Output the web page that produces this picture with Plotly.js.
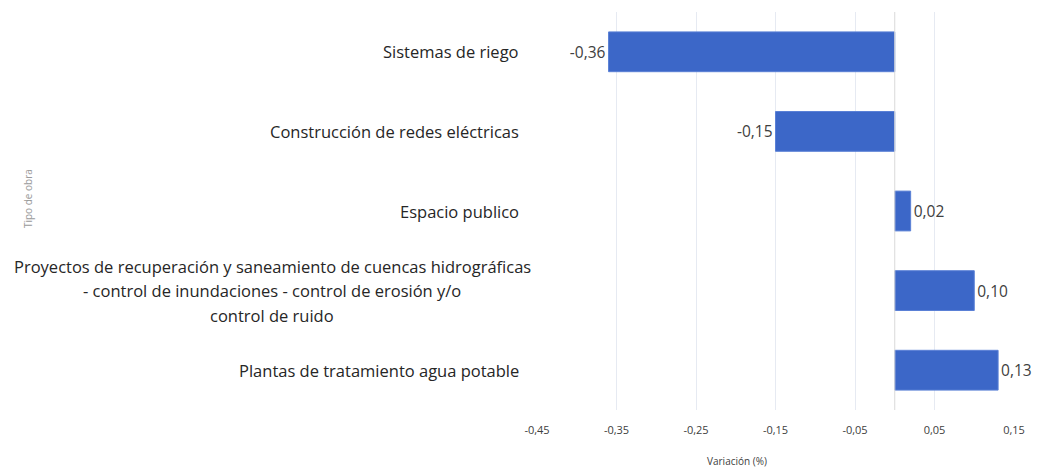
<!DOCTYPE html>
<html>
<head>
<meta charset="utf-8">
<script src="https://cdn.plot.ly/plotly-3.0.1.min.js"></script>
<style>html,body{margin:0;padding:0;background:#fff;}#chart{width:1037px;height:467px;}</style>
</head>
<body>
<div id="chart"></div>
<script>
const categories = [
  "Sistemas de riego",
  "Construcción de redes eléctricas",
  "Espacio publico",
  "Proyectos de recuperación y saneamiento de cuencas hidrográficas<br>- control de inundaciones - control de erosión y/o<br>control de ruido",
  "Plantas de tratamiento agua potable"
];
const values = [-0.36, -0.15, 0.02, 0.10, 0.13];
const xTickVals = [-0.45, -0.35, -0.25, -0.15, -0.05, 0.05, 0.15];
const xAxisTitle = "Variación (%)";
const yAxisTitle = "Tipo de obra";

const fmt = v => v.toFixed(2).replace(".", ",");

const FONT = "Open Sans, sans-serif";
const W = 1037, L = 537, R = 23;
const plotW = W - L - R;
const px = p => (p - L) / plotW;

const trace = {
  type: "bar",
  orientation: "h",
  y: categories,
  x: values,
  width: 0.5,
  marker: {color: "#3c67c8", line: {color: "#5a80d6", width: 1}},
  text: values.map(fmt),
  textposition: "outside",
  cliponaxis: false,
  textfont: {family: FONT, size: 15.5, color: "#404040"},
  hoverinfo: "skip"
};

const annotations = [];
categories.forEach(c => {
  const lines = c.split("<br>");
  if (lines.length === 1) {
    annotations.push({xref: "paper", yref: "y", x: px(521), y: c, xanchor: "right", yanchor: "middle",
      text: c, showarrow: false, font: {family: FONT, size: 16.5, color: "#262626"}});
  } else {
    const n = lines.length;
    lines.forEach((ln, i) => {
      annotations.push({xref: "paper", yref: "y", x: px(272), y: c, xanchor: "center", yanchor: "middle",
        yshift: ((n - 1) / 2 - i) * 24.5,
        text: ln, showarrow: false, font: {family: FONT, size: 16.5, color: "#262626"}});
    });
  }
});
annotations.push({xref: "paper", yref: "paper", x: px(28), y: 0.53, textangle: -90, xanchor: "center", yanchor: "middle",
  text: yAxisTitle, showarrow: false, font: {family: FONT, size: 10, color: "#9a9a9a"}});
annotations.push({xref: "paper", yref: "paper", x: px(737), y: 0, yshift: -51, xanchor: "center", yanchor: "middle",
  text: xAxisTitle, showarrow: false, font: {family: FONT, size: 10, color: "#404040"}});

const layout = {
  width: 1037, height: 467,
  margin: {l: L, r: R, t: 12, b: 57},
  paper_bgcolor: "#ffffff",
  plot_bgcolor: "#ffffff",
  showlegend: false,
  xaxis: {
    range: [-0.45, 0.15],
    tickvals: xTickVals,
    ticktext: xTickVals.map(fmt),
    showgrid: true,
    gridcolor: "#e6eaf2",
    gridwidth: 1,
    zeroline: false,
    showline: false,
    ticks: "",
    ticklabelstandoff: 12,
    tickfont: {family: FONT, size: 11, color: "#404040"}
  },
  yaxis: {
    autorange: "reversed",
    showticklabels: false,
    showgrid: false,
    zeroline: false,
    showline: false,
    ticks: ""
  },
  shapes: [{type: "line", xref: "x", yref: "paper", x0: 0, x1: 0, y0: 0, y1: 1, line: {color: "#d9d9d9", width: 1}}],
  annotations: annotations
};

Plotly.newPlot("chart", [trace], layout, {displayModeBar: false, staticPlot: true});
</script>
</body>
</html>
